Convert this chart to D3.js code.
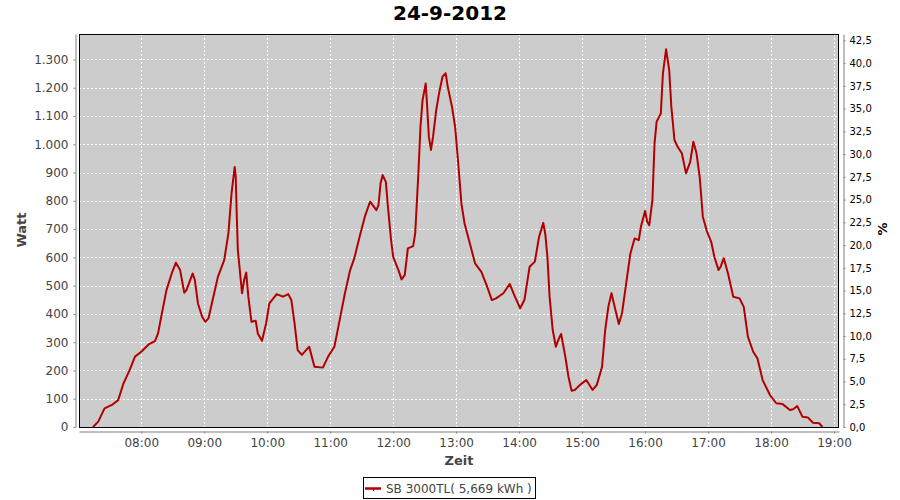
<!DOCTYPE html>
<html>
<head>
<meta charset="utf-8">
<script src="https://cdn.jsdelivr.net/npm/d3@7"></script>
<style>
  html, body { margin: 0; padding: 0; background: #fff; }
  svg { display: block; font-family: "DejaVu Sans", sans-serif; }
</style>
</head>
<body>
<svg id="chart" width="900" height="500"></svg>
<script>
// ---- data ----
const chartTitle = "24-9-2012";
const seriesName = "SB 3000TL( 5,669 kWh )";
const times = ["07:14","07:19","07:25","07:32","07:38","07:43","07:49","07:54","08:00","08:07","08:13","08:16","08:19","08:24","08:29","08:33","08:37","08:41","08:43","08:49","08:51","08:54","08:58","09:01","09:04","09:08","09:13","09:19","09:23","09:26","09:29","09:30","09:31","09:32","09:36","09:38","09:40","09:42","09:45","09:49","09:51","09:55","09:59","10:02","10:09","10:15","10:20","10:23","10:26","10:29","10:33","10:40","10:45","10:53","10:58","11:04","11:09","11:14","11:19","11:23","11:28","11:33","11:38","11:44","11:46","11:48","11:50","11:53","11:55","11:58","12:00","12:05","12:08","12:11","12:14","12:19","12:21","12:24","12:26","12:28","12:31","12:32","12:34","12:36","12:38","12:41","12:44","12:47","12:50","12:52","12:56","12:59","13:02","13:05","13:08","13:13","13:18","13:24","13:29","13:34","13:38","13:45","13:51","13:56","14:01","14:05","14:10","14:15","14:19","14:23","14:25","14:27","14:29","14:32","14:35","14:38","14:40","14:44","14:47","14:50","14:53","14:58","15:04","15:10","15:14","15:19","15:22","15:25","15:28","15:31","15:35","15:38","15:42","15:46","15:50","15:54","15:56","16:00","16:02","16:04","16:07","16:09","16:11","16:15","16:17","16:20","16:23","16:25","16:28","16:31","16:35","16:39","16:43","16:46","16:49","16:52","16:55","16:59","17:03","17:06","17:10","17:12","17:15","17:19","17:24","17:30","17:34","17:38","17:43","17:47","17:52","17:59","18:05","18:11","18:18","18:21","18:25","18:30","18:35","18:40","18:46","18:49"];
const watts = [0,19,66,78,95,154,202,249,266,292,304,331,390,484,543,581,555,475,484,543,520,437,390,372,384,449,531,590,685,826,920,885,744,626,473,520,546,461,372,376,331,305,367,437,470,461,470,449,367,272,255,284,213,210,249,284,378,473,555,597,673,744,797,767,785,862,891,867,779,661,602,555,522,537,632,640,685,897,1062,1156,1215,1156,1027,980,1027,1121,1186,1239,1251,1203,1133,1062,932,791,720,650,579,549,502,449,455,473,506,461,420,449,567,585,673,722,680,600,461,343,284,314,329,249,178,128,131,149,166,131,149,213,343,425,473,425,364,402,508,614,667,661,708,764,726,714,803,1003,1080,1109,1251,1336,1262,1133,1015,991,968,897,938,1009,968,885,744,691,655,602,555,567,597,543,461,455,425,319,266,243,166,113,84,81,60,63,74,36,34,15,13,0];
const timeDomain = ["07:00:40", "19:04:45"];
const hourTicks = ["08:00","09:00","10:00","11:00","12:00","13:00","14:00","15:00","16:00","17:00","18:00","19:00"];
const wattTicks = [0,100,200,300,400,500,600,700,800,900,1000,1100,1200,1300];
const wattMax = 1390;
const pctTicks = [0,2.5,5,7.5,10,12.5,15,17.5,20,22.5,25,27.5,30,32.5,35,37.5,40,42.5];
const pctMax = 43.2;
const xLabel = "Zeit", yLabel = "Watt", y2Label = "%";

// ---- layout ----
const L = 79, R = 839, T = 34, B = 427;
const lineColor = "#b20000";
const tickGray = "#444444";
const axisGray = "#808080";

const de = d3.formatLocale({decimal: ",", thousands: ".", grouping: [3], currency: ["", " €"]});
const fmtW = de.format(",d");
const fmtP = de.format(",.1f");
const parseHM = d3.timeParse("%H:%M");
const parseHMS = d3.timeParse("%H:%M:%S");

const data = times.map((t, i) => ({t: parseHM(t), v: watts[i]}));

const svg = d3.select("#chart");

const x = d3.scaleTime().domain(timeDomain.map(parseHMS)).range([L, R]);
const y = d3.scaleLinear().domain([0, wattMax]).range([B, T]);
const y2 = d3.scaleLinear().domain([0, pctMax]).range([B, T]);

// plot background
svg.append("rect").attr("x", L).attr("y", T).attr("width", R - L).attr("height", B - T).attr("fill", "#cccccc");

// gridlines
const grid = svg.append("g").attr("stroke", "#ffffff").attr("stroke-width", 1).attr("stroke-dasharray", "2,2");
grid.selectAll("line.v").data(hourTicks.map(parseHM)).enter().append("line")
  .attr("x1", d => Math.round(x(d)) + 0.5).attr("x2", d => Math.round(x(d)) + 0.5)
  .attr("y1", T).attr("y2", B);
grid.selectAll("line.h").data(wattTicks.filter(d => d > 0)).enter().append("line")
  .attr("y1", d => Math.round(y(d)) + 0.5).attr("y2", d => Math.round(y(d)) + 0.5)
  .attr("x1", L).attr("x2", R);

// series line
const line = d3.line().x(d => x(d.t)).y(d => y(d.v));
svg.append("path").datum(data).attr("d", line)
  .attr("fill", "none").attr("stroke", lineColor).attr("stroke-width", 2).attr("stroke-linejoin", "round");

// plot border
svg.append("rect").attr("x", L + 0.5).attr("y", T + 0.5).attr("width", R - L - 1).attr("height", B - T)
  .attr("fill", "none").attr("stroke", "#000").attr("stroke-width", 1);

// axes
function styleAxis(g, textColor) {
  g.select(".domain").attr("stroke", axisGray);
  g.selectAll(".tick line").attr("stroke", axisGray);
  g.selectAll(".tick text").attr("fill", textColor);
}

const xAxis = d3.axisBottom(x).tickValues(hourTicks.map(parseHM)).tickFormat(d3.timeFormat("%H:%M"))
  .tickSize(2).tickSizeOuter(0).tickPadding(4.5);
svg.append("g").attr("transform", `translate(0,${B + 4.5})`).call(xAxis)
  .attr("font-family", "DejaVu Sans").attr("font-size", 12).call(g => styleAxis(g, tickGray));

const yAxis = d3.axisLeft(y).tickValues(wattTicks).tickFormat(fmtW).tickSize(2).tickSizeOuter(0).tickPadding(5);
svg.append("g").attr("transform", `translate(${L - 3.5},0)`).call(yAxis)
  .attr("font-family", "DejaVu Sans").attr("font-size", 12).call(g => styleAxis(g, tickGray));

const y2Axis = d3.axisRight(y2).tickValues(pctTicks).tickFormat(fmtP).tickSize(2).tickSizeOuter(0).tickPadding(4);
svg.append("g").attr("transform", `translate(${R + 4.5},0)`).call(y2Axis)
  .attr("font-family", "DejaVu Sans").attr("font-size", 10).call(g => styleAxis(g, "#000"));

// title
svg.append("text").attr("x", 450).attr("y", 19.5).attr("text-anchor", "middle")
  .attr("font-size", 20).attr("font-weight", "bold").attr("fill", "#000").text(chartTitle);

// axis labels
svg.append("text").attr("x", 459).attr("y", 464.5).attr("text-anchor", "middle")
  .attr("font-size", 13).attr("font-weight", "bold").attr("fill", tickGray).text(xLabel);
svg.append("text").attr("transform", "translate(26,230) rotate(-90)").attr("text-anchor", "middle")
  .attr("font-size", 13).attr("font-weight", "bold").attr("fill", tickGray).text(yLabel);
svg.append("text").attr("transform", "translate(887,229) rotate(-90)").attr("text-anchor", "middle")
  .attr("font-size", 13).attr("font-weight", "bold").attr("fill", "#000").text(y2Label);

// legend
const lg = svg.append("g");
lg.append("rect").attr("x", 363.5).attr("y", 477.5).attr("width", 172).attr("height", 21)
  .attr("fill", "#fff").attr("stroke", "#000").attr("stroke-width", 1);
lg.append("line").attr("x1", 365).attr("x2", 381).attr("y1", 488.5).attr("y2", 488.5)
  .attr("stroke", lineColor).attr("stroke-width", 2.5);
lg.append("line").attr("x1", 373.5).attr("x2", 373.5).attr("y1", 488).attr("y2", 491)
  .attr("stroke", lineColor).attr("stroke-width", 1);
lg.append("text").attr("x", 386).attr("y", 493).attr("font-size", 12).attr("fill", tickGray).text(seriesName);
</script>
</body>
</html>
